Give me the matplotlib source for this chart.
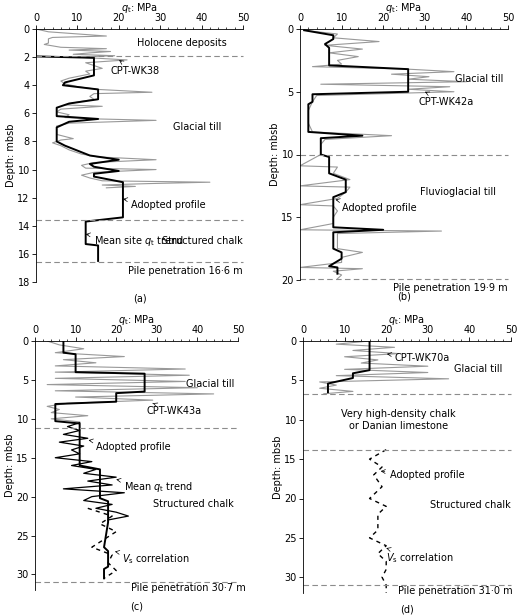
import matplotlib
matplotlib.use("Agg")
import matplotlib.pyplot as plt

# ---------- data ----------
# Panel (a)
a_cpt_z = [0,0.2,0.5,0.6,0.7,0.9,1.0,1.1,1.3,1.4,1.5,1.6,1.7,1.8,1.9,2.0,2.2,2.4,2.6,2.8,3.0,3.2,3.5,3.7,3.9,4.1,4.3,4.5,4.6,4.8,5.0,5.2,5.4,5.5,5.7,5.9,6.1,6.3,6.4,6.5,6.7,6.9,7.2,7.5,7.8,7.9,8.1,8.3,8.6,8.9,9.1,9.3,9.5,9.7,9.9,10.0,10.2,10.4,10.6,10.8,10.9,11.0,11.1,11.2,11.3]
a_cpt_q = [0,3,17,4,3,3,3,2,6,17,8,18,13,9,19,10,22,12,14,16,12,13,8,6,7,10,15,28,14,13,14,10,7,16,6,5,8,7,15,29,8,5,5,5,9,6,4,6,8,11,15,29,14,11,12,29,14,11,13,16,42,27,16,24,17]
a_adp_z = [0,1.95,2.05,3.3,3.8,4.0,4.3,5.0,5.3,5.6,6.2,6.4,6.6,7.0,8.0,8.3,9.0,9.3,9.6,9.8,10.1,10.3,10.5,10.9,13.4,13.7,15.3,15.4,16.5]
a_adp_q = [0,0,14,14,7,6.5,15,15,8,5,5,15,8,5,5,7,13,20,13,14,20,14,14,21,21,12,12,15,15]

# Panel (b)
b_cpt_z = [0.1,0.4,0.7,1.0,1.3,1.6,1.9,2.2,2.5,2.8,3.0,3.2,3.4,3.6,3.8,4.0,4.2,4.4,4.6,4.8,5.0,5.3,5.8,6.5,7.5,8.2,8.5,8.8,9.2,10.0,10.9,11.0,11.5,12.0,12.5,12.6,13.0,13.5,14.0,14.1,14.5,15.0,15.5,16.0,16.1,16.3,17.0,17.5,17.8,18.2,18.6,19.0,19.1,19.3,19.6,19.9]
b_cpt_q = [1,9,8,19,6,15,7,14,9,10,3,26,37,22,31,26,40,5,36,26,37,4,3,2,2,3,22,6,5,5,0,9,8,12,0,12,11,9,0,8,9,8,8,0,34,9,9,9,15,10,10,0,15,8,10,9]
b_adp_z = [0.1,0.5,0.8,1.0,1.2,1.5,2.9,3.2,5.0,5.2,5.8,6.0,8.2,8.5,8.7,10.0,10.2,11.5,12.0,13.0,13.4,15.8,16.0,16.2,17.5,17.8,18.3,18.7,18.9,19.0,19.5]
b_adp_q = [1,8,8,7,6,7,7,26,26,3,3,2,2,15,5,5,7,7,11,11,8,8,20,8,8,10,10,8,7,9,9]

# Panel (c)
c_cpt_z = [0,0.5,1.0,1.5,2.0,2.4,2.8,3.2,3.6,4.0,4.4,4.8,5.2,5.6,6.0,6.4,6.8,7.2,7.6,8.0,8.4,8.8,9.2,9.6,10.0,10.4]
c_cpt_q = [3,6,12,5,22,7,15,5,37,5,38,5,37,3,40,5,44,10,29,8,3,6,4,13,4,11]
c_mean_z = [10.5,11.0,11.5,12.0,12.5,13.0,13.5,14.0,14.5,15.0,15.5,16.0,16.5,17.0,17.5,18.0,18.5,19.0,19.5,20.0,20.5,21.0,21.5,22.0,22.5,23.0]
c_mean_q = [11,8,11,7,13,6,12,9,11,5,14,9,15,12,20,13,19,7,22,14,12,19,15,20,23,18]
c_adp_z = [0,1.5,1.7,4.0,4.2,6.5,6.7,7.8,8.1,10.3,10.6,16.0,16.5,20.2,20.6,23.3,26.5,27.0,29.0,29.3,30.5]
c_adp_q = [7,7,10,10,27,27,20,20,5,5,11,11,16,16,18,18,17,18,18,17,17]
c_vs_z = [21.5,22.5,23.5,24.5,25.5,26.5,27.5,28.5,29.5,30.5]
c_vs_q = [13,19,16,20,17,14,19,18,20,17]

# Panel (d)
d_cpt_z = [0,0.4,0.8,1.2,1.6,2.0,2.4,2.8,3.2,3.6,4.0,4.4,4.8,5.2,5.6,6.0,6.4,6.7]
d_cpt_q = [16,8,22,12,23,10,18,14,30,10,30,8,35,4,8,4,12,5]
d_adp_z = [0,3.7,4.1,4.7,5.4,6.5]
d_adp_q = [16,16,12,12,6,6]
d_vs_z = [13.8,15,16,17,18.5,20,21,22,24,25,26,27,28,29,30,31,32]
d_vs_q = [20,16,19,17,19,16,20,18,18,16,20,18,20,20,19,20,20]

xticks = [0, 10, 20, 30, 40, 50]

fig = plt.figure(figsize=(5.2, 6.15), dpi=100)
W, H = 520, 615
def ax_at(l, t, r, b):
    return fig.add_axes([l / W, 1 - b / H, (r - l) / W, (b - t) / H])

axes = [ax_at(36, 29, 243, 282), ax_at(300, 29, 508, 280),
        ax_at(35, 341, 238, 590), ax_at(303, 341, 511, 593)]
ylims = [(18, 0), (20, 0), (32, 0), (32, 0)]
yticks = [range(0, 19, 2), range(0, 21, 5), range(0, 31, 5), range(0, 31, 5)]
labels = ["(a)", "(b)", "(c)", "(d)"]
fs = 7
for ax, yl, yt, lab in zip(axes, ylims, yticks, labels):
    ax.set_xlim(0, 50)
    ax.set_ylim(*yl)
    ax.set_xticks(xticks)
    ax.set_xticks(range(0, 51, 2), minor=True)
    ax.set_yticks(list(yt))
    ax.xaxis.tick_top()
    ax.xaxis.set_label_position("top")
    ax.set_xlabel("$q_\\mathrm{t}$: MPa", fontsize=fs, labelpad=1)
    ax.set_ylabel("Depth: mbsb", fontsize=fs, labelpad=1)
    ax.tick_params(labelsize=fs, length=3, width=0.6, pad=1.5)
    ax.tick_params(which="minor", length=1.5, width=0.5)
    for s in ["right", "bottom"]:
        ax.spines[s].set_visible(False)
    for s in ["left", "top"]:
        ax.spines[s].set_linewidth(0.6)
    ax.text(0.5, -0.045, lab, transform=ax.transAxes, ha="center", va="top", fontsize=fs)

def hline(ax, y):
    ax.plot([0, 50], [y, y], ls=(0, (5, 3)), color="0.55", lw=0.8, clip_on=False)

gray = "0.6"
# (a)
ax = axes[0]
ax.plot(a_cpt_q, a_cpt_z, color=gray, lw=0.8)
ax.plot(a_adp_q, a_adp_z, color="k", lw=1.4)
for y in [1.95, 13.6, 16.6]:
    hline(ax, y)
ax.text(46, 1.0, "Holocene deposits", ha="right", va="center", fontsize=fs)
ax.annotate("CPT-WK38", xy=(19.5, 2.1), xytext=(18, 3.0), fontsize=fs, va="center",
            arrowprops=dict(arrowstyle="->", lw=0.5))
ax.text(39, 7.0, "Glacial till", ha="center", va="center", fontsize=fs)
ax.annotate("Adopted profile", xy=(21, 12.1), xytext=(23, 12.5), fontsize=fs, va="center",
            arrowprops=dict(arrowstyle="->", lw=0.5))
ax.annotate("Mean site $q_\\mathrm{t}$ trend", xy=(12, 14.6), xytext=(14, 15.1), fontsize=fs, va="center",
            arrowprops=dict(arrowstyle="->", lw=0.5))
ax.text(50, 15.1, "Structured chalk", ha="right", va="center", fontsize=fs)
ax.text(50, 17.2, "Pile penetration 16·6 m", ha="right", va="center", fontsize=fs)

# (b)
ax = axes[1]
ax.plot(b_cpt_q, b_cpt_z, color=gray, lw=0.8)
ax.plot(b_adp_q, b_adp_z, color="k", lw=1.4)
for y in [10.0, 19.9]:
    hline(ax, y)
ax.text(49, 4.0, "Glacial till", ha="right", va="center", fontsize=fs)
ax.annotate("CPT-WK42a", xy=(30, 5.0), xytext=(28.5, 5.8), fontsize=fs, va="center",
            arrowprops=dict(arrowstyle="->", lw=0.5))
ax.text(47, 13.0, "Fluvioglacial till", ha="right", va="center", fontsize=fs)
ax.annotate("Adopted profile", xy=(8.5, 13.6), xytext=(10, 14.3), fontsize=fs, va="center",
            arrowprops=dict(arrowstyle="->", lw=0.5))
ax.text(50, 20.6, "Pile penetration 19·9 m", ha="right", va="center", fontsize=fs)

# (c)
ax = axes[2]
ax.plot(c_cpt_q, c_cpt_z, color=gray, lw=0.8)
ax.plot(c_mean_q, c_mean_z, color="k", lw=0.9)
ax.plot(c_adp_q, c_adp_z, color="k", lw=1.4)
ax.plot(c_vs_q, c_vs_z, color="k", lw=1.0, ls=(0, (3, 3)))
for y in [11.2, 31.0]:
    hline(ax, y)
ax.text(49, 5.5, "Glacial till", ha="right", va="center", fontsize=fs)
ax.annotate("CPT-WK43a", xy=(29, 8.0), xytext=(27.5, 9.0), fontsize=fs, va="center",
            arrowprops=dict(arrowstyle="->", lw=0.5))
ax.annotate("Adopted profile", xy=(12.5, 12.7), xytext=(15, 13.6), fontsize=fs, va="center",
            arrowprops=dict(arrowstyle="->", lw=0.5))
ax.annotate("Mean $q_\\mathrm{t}$ trend", xy=(20, 17.8), xytext=(22, 18.8), fontsize=fs, va="center",
            arrowprops=dict(arrowstyle="->", lw=0.5))
ax.text(49, 21.0, "Structured chalk", ha="right", va="center", fontsize=fs)
ax.annotate("$V_\\mathrm{s}$ correlation", xy=(19, 27.0), xytext=(21.5, 28.0), fontsize=fs, va="center",
            arrowprops=dict(arrowstyle="->", lw=0.5))
ax.text(52, 31.8, "Pile penetration 30·7 m", ha="right", va="center", fontsize=fs)

# (d)
ax = axes[3]
ax.plot(d_cpt_q, d_cpt_z, color=gray, lw=0.8)
ax.plot(d_adp_q, d_adp_z, color="k", lw=1.4)
ax.plot(d_vs_q, d_vs_z, color="k", lw=1.0, ls=(0, (3, 3)))
for y in [6.7, 13.8, 31.0]:
    hline(ax, y)
ax.annotate("CPT-WK70a", xy=(19.5, 1.6), xytext=(22, 2.2), fontsize=fs, va="center",
            arrowprops=dict(arrowstyle="->", lw=0.5))
ax.text(48, 3.5, "Glacial till", ha="right", va="center", fontsize=fs)
ax.text(23, 10.0, "Very high-density chalk\nor Danian limestone", ha="center", va="center",
        fontsize=fs, linespacing=1.3)
ax.annotate("Adopted profile", xy=(18, 16.5), xytext=(21, 17.0), fontsize=fs, va="center",
            arrowprops=dict(arrowstyle="->", lw=0.5))
ax.text(50, 20.8, "Structured chalk", ha="right", va="center", fontsize=fs)
ax.annotate("$V_\\mathrm{s}$ correlation", xy=(20, 26.3), xytext=(20, 27.6), fontsize=fs, va="center",
            arrowprops=dict(arrowstyle="->", lw=0.5))
ax.text(50.5, 31.8, "Pile penetration 31·0 m", ha="right", va="center", fontsize=fs)

fig.savefig("out.png", dpi=100)
